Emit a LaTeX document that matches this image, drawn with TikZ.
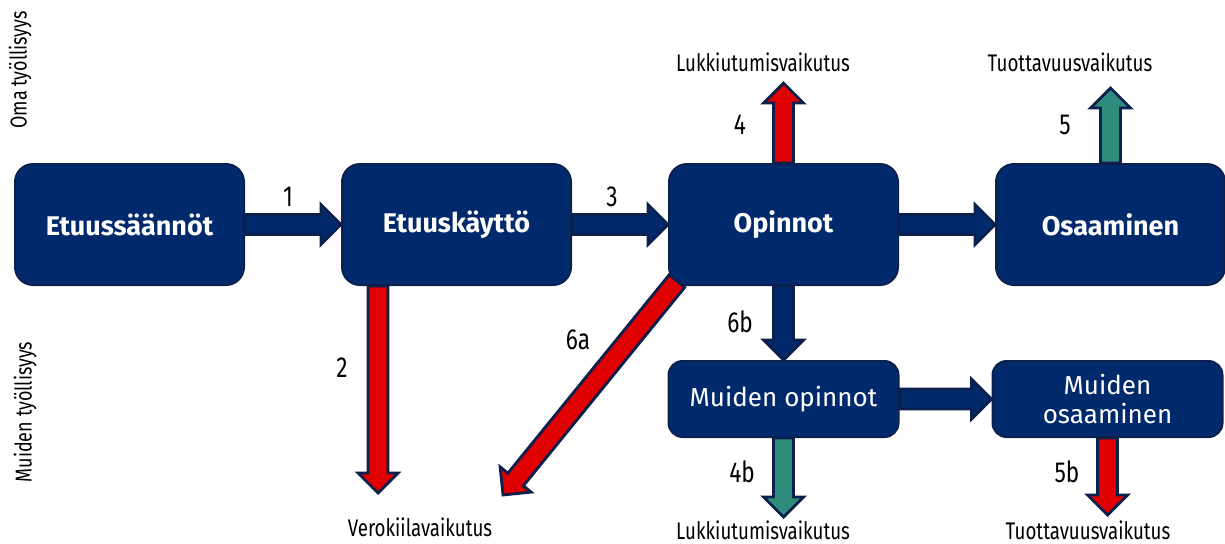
\documentclass[tikz,border=0pt]{standalone}
\usepackage{fontspec}
\setmainfont{Fira Sans}
\newfontfamily\condfont[FakeStretch=0.78]{Fira Sans}
\usepackage{tikz}
\usetikzlibrary{positioning}
\usetikzlibrary{calc}

\definecolor{boxblue}{RGB}{0,42,108}
\definecolor{boxline}{RGB}{12,32,78}
\definecolor{effred}{RGB}{224,0,0}
\definecolor{effteal}{RGB}{46,140,125}

% block arrow: fill colour, start, tip
\newcommand{\fatarrow}[3]{%
  \coordinate (hb) at ($(#3)!10pt!(#2)$);
  \draw[arrowline, fill=#1]
    ($(#2)!5pt!90:(#3)$) -- ($(hb)!5pt!90:(#3)$) -- ($(hb)!10pt!90:(#3)$) -- (#3)
    -- ($(hb)!10pt!-90:(#3)$) -- ($(hb)!5pt!-90:(#3)$) -- ($(#2)!5pt!-90:(#3)$) -- cycle;
}

\begin{document}
\begin{tikzpicture}[
                x = 0.5pt, y = -0.5pt,
                bigbox/.style = {draw = boxline, line width = 1pt, fill = boxblue,
                  rounded corners = 9pt, minimum width = 114.5pt, minimum height = 60.5pt,
                  text = white, font = \fontsize{13.5}{16}\selectfont\bfseries},
                smallbox/.style = {draw = boxline, line width = 1pt, fill = boxblue,
                  rounded corners = 7pt, minimum width = 115pt, minimum height = 38pt,
                  text = white, align = center, inner sep = 1pt,
                  font = \fontsize{13}{14.5}\selectfont},
                arrowline/.style = {draw = boxline, line width = 1.4pt, line join = miter},
                effect/.style = {font = \condfont\fontsize{12}{14}\selectfont},
                number/.style = {font = \condfont\fontsize{14.5}{16}\selectfont},
                side/.style = {font = \condfont\fontsize{11.5}{13}\selectfont, rotate = 90}
                ]
  \useasboundingbox (0,0) rectangle (1225,543);

  % Boxes
  \node[bigbox] (rules) at (129.5,224.5) {Etuussäännöt};
  \node[bigbox, right = 48pt of rules] (use)  {Etuuskäyttö};
  \node[bigbox, right = 48pt of use]   (study) {Opinnot};
  \node[bigbox, right = 48pt of study] (skill) {Osaaminen};
  \node[smallbox, below = 37pt of study] (ostudy) {Muiden opinnot};
  \node[smallbox, right = 46pt of ostudy] (oskill) {Muiden\\osaaminen};

  % Free ends of the effect arrows
  \coordinate (taxtip)    at (378,493);
  \coordinate (diagstart) at (677,281);
  \coordinate (diagtip)   at (503,495);
  \coordinate (locktip)   at ($(study.north)+(0,-80)$);
  \coordinate (prodtip)   at ($(skill.north)+(0,-75)$);
  \coordinate (olocktip)  at ($(ostudy.south)+(0,79)$);
  \coordinate (oprodtip)  at ($(oskill.south)+(0,77)$);

  % Arrows
  \fatarrow{boxblue}{rules.east}{use.west}
  \fatarrow{boxblue}{use.east}{study.west}
  \fatarrow{boxblue}{study.east}{skill.west}
  \fatarrow{boxblue}{study.south}{ostudy.north}
  \fatarrow{boxblue}{ostudy.east}{oskill.west}
  \fatarrow{effred}{use.south -| taxtip}{taxtip}
  \fatarrow{effred}{diagstart}{diagtip}
  \fatarrow{effred}{study.north}{locktip}
  \fatarrow{effteal}{skill.north}{prodtip}
  \fatarrow{effteal}{ostudy.south}{olocktip}
  \fatarrow{effred}{oskill.south}{oprodtip}

  % Numbers
  \node[number] (n1)  at (288,197)  {1};
  \node[number] (n2)  at (342,368)  {2};
  \node[number] (n3)  at (612,197)  {3};
  \node[number] (n4)  at (740,125)  {4};
  \node[number] (n5)  at (1065,125) {5};
  \node[number] (n6a) at (578,340)  {6a};
  \node[number] (n6b) at (740,322)  {6b};
  \node[number] (n4b) at (742,472)  {4b};
  \node[number] (n5b) at (1067,472) {5b};

  % Effect labels
  \node[effect] (lock)  at (763,62)   {Lukkiutumisvaikutus};
  \node[effect] (prod)  at (1070,62)  {Tuottavuusvaikutus};
  \node[effect] (tax)   at (420,527)  {Verokiilavaikutus};
  \node[effect] (olock) at (763,530)  {Lukkiutumisvaikutus};
  \node[effect] (oprod) at (1088,530) {Tuottavuusvaikutus};

  % Side labels
  \node[side] (own)    at (20,70)  {Oma työllisyys};
  \node[side] (others) at (25,412) {Muiden työllisyys};
\end{tikzpicture}
\end{document}
